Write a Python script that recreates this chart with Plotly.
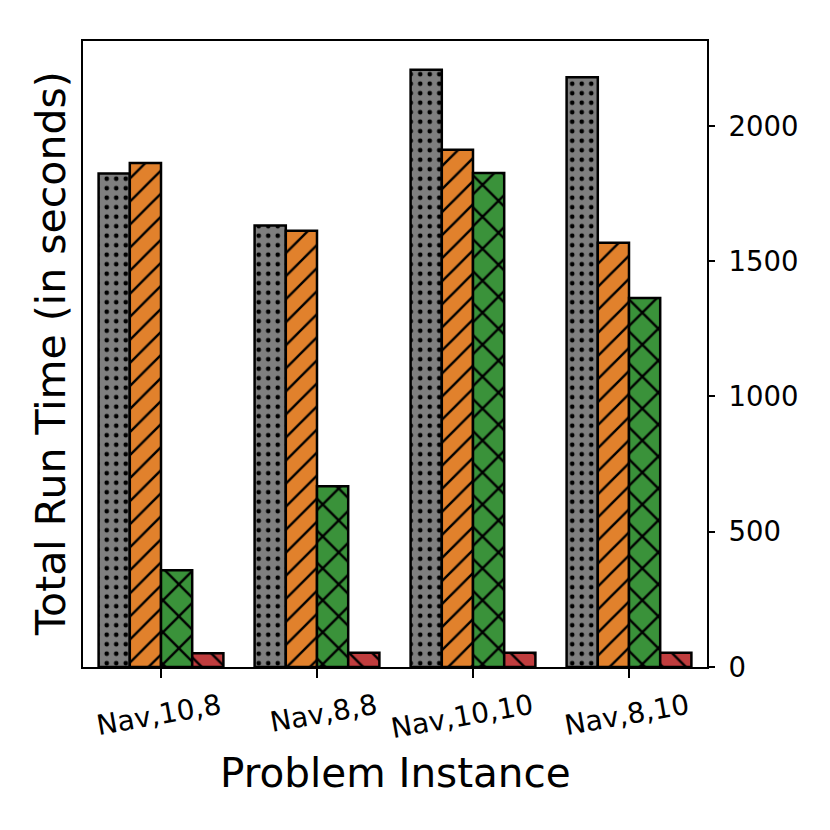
import plotly.graph_objects as go

categories = ["Nav,10,8", "Nav,8,8", "Nav,10,10", "Nav,8,10"]
series_names = ["Series 1", "Series 2", "Series 3", "Series 4"]
gray_vals = [1824, 1632, 2208, 2180]
orange_vals = [1863, 1613, 1912, 1568]
green_vals = [358, 668, 1826, 1364]
red_vals = [51, 53, 53, 53]
y_ticks = [0, 500, 1000, 1500, 2000]

colors = ["#7f7f7f", "#e1812c", "#3a923a", "#c03d3e"]
shapes = [".", "/", "x", "\\"]
sizes = [9.5, 16.3, 22.6, 16.3]
solids = [0.19, 0.15, 0.2, 0.15]

FONT = "DejaVu Sans"
OFF = 8  # page body margin
fig = go.Figure()
for name, vals, c, sh, sz, so in zip(series_names,
                                      [gray_vals, orange_vals, green_vals, red_vals],
                                      colors, shapes, sizes, solids):
    fig.add_trace(go.Bar(
        x=categories, y=vals, name=name,
        marker=dict(color=c,
                    line=dict(color="black", width=2.5),
                    pattern=dict(shape=sh, fgcolor="black", bgcolor=c,
                                 size=sz, solidity=so, fgopacity=1)),
    ))

FW = FH = 830 - OFF
L, R, T, B = 83 - OFF, 707 - OFF, 41 - OFF, 667.5 - OFF
W = R - L
H = B - T

fig.update_layout(
    width=FW, height=FH,
    margin=dict(l=L, r=FW - R, t=T, b=FH - B, pad=0),
    paper_bgcolor="white", plot_bgcolor="white",
    barmode="group", bargap=0.2, bargroupgap=0,
    showlegend=False,
    font=dict(family=FONT, color="black", size=27.5),
    xaxis=dict(
        type="category", range=[-0.5, 3.5],
        showline=True, linecolor="black", linewidth=1.8, mirror=True,
        ticks="outside", ticklen=9, tickwidth=1.8, tickcolor="black",
        tickangle=-10, tickfont=dict(size=28, family=FONT),
        ticklabelshift=59, ticklabelstandoff=2,
        showgrid=False, zeroline=False,
    ),
    yaxis=dict(
        side="right", range=[0, 2314],
        tickvals=y_ticks, ticktext=[str(v) for v in y_ticks],
        showline=True, linecolor="black", linewidth=1.8, mirror=True,
        ticks="outside", ticklen=6, tickwidth=1.8, tickcolor="black",
        tickfont=dict(size=27.5, family=FONT),
        ticklabelstandoff=8,
        showgrid=False, zeroline=False,
    ),
    annotations=[
        dict(text="Problem Instance", xref="paper", yref="paper",
             x=0.5, y=(B - (774 - OFF)) / H, xanchor="center", yanchor="middle",
             showarrow=False, font=dict(size=40.5, family=FONT)),
        dict(text="Total Run Time (in seconds)", xref="paper", yref="paper",
             x=((51 - OFF) - L) / W, y=0.5, xanchor="center", yanchor="middle",
             textangle=-90, showarrow=False, font=dict(size=41, family=FONT)),
    ],
)

fig.write_html("out.html")
